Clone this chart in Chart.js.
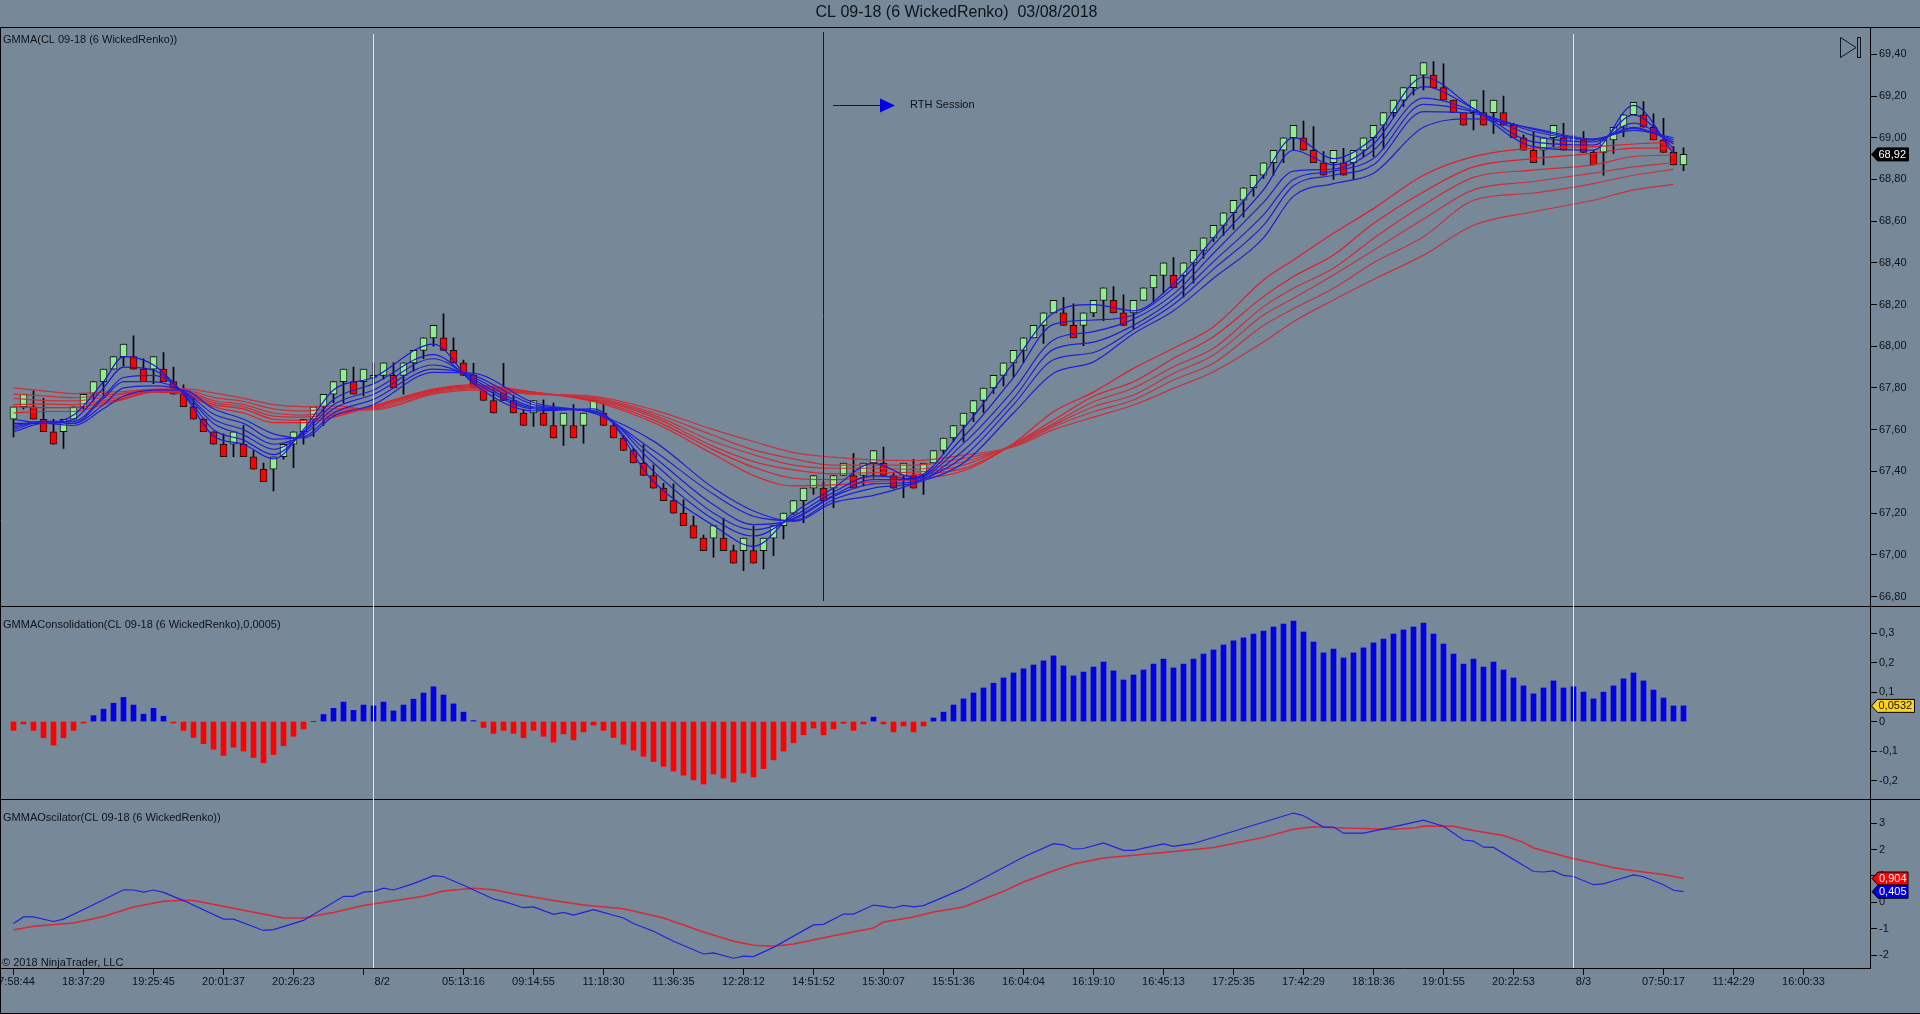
<!DOCTYPE html>
<html>
<head>
<meta charset="utf-8">
<title>CL 09-18 GMMA</title>
<script src="https://cdn.jsdelivr.net/npm/chart.js@4/dist/chart.umd.min.js"></script>
<style>
html,body{margin:0;padding:0;background:#778899;overflow:hidden}
canvas{display:block}
</style>
</head>
<body>
<canvas id="chart" width="1920" height="1014"></canvas>
<script>
// renko candles, one entry per brick
const opens=[67.65,67.71,67.71,67.65,67.59,67.59,67.65,67.71,67.77,67.83,67.89,67.95,67.95,67.89,
67.89,67.89,67.83,67.77,67.71,67.65,67.59,67.53,67.53,67.53,67.47,67.41,67.41,67.47,
67.53,67.59,67.65,67.71,67.77,67.83,67.83,67.83,67.85,67.86,67.86,67.86,67.92,67.98,
68.04,68.04,67.98,67.92,67.86,67.80,67.74,67.80,67.74,67.68,67.68,67.68,67.62,67.62,
67.62,67.62,67.68,67.68,67.62,67.56,67.50,67.44,67.38,67.32,67.26,67.20,67.14,67.08,
67.08,67.08,67.02,67.02,67.02,67.02,67.08,67.14,67.20,67.26,67.32,67.32,67.32,67.38,
67.38,67.38,67.44,67.44,67.38,67.38,67.38,67.38,67.44,67.50,67.56,67.62,67.68,67.74,
67.80,67.86,67.92,67.98,68.04,68.10,68.16,68.16,68.10,68.10,68.16,68.22,68.22,68.16,
68.16,68.22,68.28,68.34,68.34,68.34,68.40,68.46,68.52,68.58,68.64,68.70,68.76,68.82,
68.88,68.94,69.00,69.00,68.94,68.88,68.88,68.88,68.88,68.94,69.00,69.06,69.12,69.18,
69.24,69.30,69.30,69.24,69.18,69.12,69.12,69.12,69.12,69.12,69.06,69.00,68.94,68.94,
69.00,69.00,68.99,68.99,68.93,68.93,68.99,69.05,69.11,69.11,69.05,68.99,68.93,68.87];
const closes=[67.71,67.77,67.65,67.59,67.53,67.65,67.71,67.77,67.83,67.89,67.95,68.01,67.89,67.83,
67.95,67.83,67.77,67.71,67.65,67.59,67.53,67.47,67.59,67.47,67.41,67.35,67.47,67.53,
67.59,67.65,67.71,67.77,67.83,67.89,67.77,67.89,67.86,67.92,67.80,67.92,67.98,68.04,
68.10,67.98,67.92,67.86,67.80,67.74,67.68,67.74,67.68,67.62,67.74,67.62,67.56,67.68,
67.56,67.68,67.74,67.62,67.56,67.50,67.44,67.38,67.32,67.26,67.20,67.14,67.08,67.02,
67.14,67.02,66.96,67.08,66.96,67.08,67.14,67.20,67.26,67.32,67.38,67.26,67.38,67.44,
67.32,67.44,67.50,67.38,67.32,67.44,67.32,67.44,67.50,67.56,67.62,67.68,67.74,67.80,
67.86,67.92,67.98,68.04,68.10,68.16,68.22,68.10,68.04,68.16,68.22,68.28,68.16,68.10,
68.22,68.28,68.34,68.40,68.28,68.40,68.46,68.52,68.58,68.64,68.70,68.76,68.82,68.88,
68.94,69.00,69.06,68.94,68.88,68.82,68.94,68.82,68.94,69.00,69.06,69.12,69.18,69.24,
69.30,69.36,69.24,69.18,69.12,69.06,69.18,69.06,69.18,69.06,69.00,68.94,68.88,69.00,
69.06,68.94,68.995,68.93,68.87,68.99,69.05,69.11,69.17,69.05,68.99,68.93,68.87,68.92];
const highs=[67.71,67.77,67.786,67.75,67.65,67.65,67.71,67.77,67.83,67.89,67.95,68.01,68.05,67.94,
67.95,67.97,67.90,67.815,67.76,67.655,67.59,67.58,67.59,67.62,67.50,67.44,67.47,67.53,
67.59,67.65,67.71,67.77,67.83,67.89,67.90,67.89,67.92,67.92,67.92,67.92,67.98,68.04,
68.10,68.155,68.04,67.934,67.918,67.81,67.806,67.918,67.766,67.695,67.74,67.743,67.727,67.68,
67.72,67.68,67.74,67.727,67.634,67.572,67.51,67.527,67.43,67.343,67.34,67.263,67.186,67.095,
67.14,67.175,67.047,67.08,67.138,67.08,67.14,67.20,67.26,67.32,67.38,67.35,67.38,67.44,
67.487,67.44,67.50,67.516,67.39,67.44,67.458,67.44,67.50,67.56,67.62,67.68,67.74,67.80,
67.86,67.92,67.98,68.04,68.10,68.16,68.22,68.235,68.203,68.16,68.22,68.28,68.286,68.246,
68.22,68.28,68.34,68.40,68.425,68.40,68.46,68.52,68.58,68.64,68.70,68.76,68.82,68.88,
68.94,69.00,69.06,69.08,69.053,68.933,68.94,68.949,68.94,69.00,69.06,69.12,69.18,69.24,
69.30,69.36,69.365,69.354,69.18,69.12,69.18,69.226,69.18,69.20,69.069,69.013,69.029,69.00,
69.06,69.069,69.013,69.029,68.941,68.99,69.05,69.11,69.17,69.173,69.114,69.093,68.957,68.952];
const lows=[67.565,67.70,67.65,67.59,67.53,67.51,67.65,67.70,67.74,67.75,67.89,67.906,67.89,67.83,
67.82,67.83,67.77,67.71,67.65,67.59,67.53,67.47,67.47,67.47,67.41,67.35,67.306,67.458,
67.418,67.53,67.567,67.62,67.73,67.73,67.77,67.762,67.825,67.842,67.80,67.77,67.88,67.94,
68.00,67.98,67.92,67.86,67.80,67.74,67.68,67.74,67.68,67.62,67.615,67.62,67.56,67.524,
67.56,67.535,67.68,67.62,67.56,67.50,67.44,67.38,67.32,67.26,67.20,67.14,67.08,67.02,
66.988,67.02,66.96,66.924,66.96,66.932,66.996,67.076,67.194,67.154,67.29,67.26,67.226,67.38,
67.32,67.33,67.367,67.38,67.32,67.274,67.32,67.29,67.44,67.484,67.543,67.542,67.638,67.683,
67.774,67.81,67.854,67.923,68.04,68.014,68.16,68.10,68.04,68.003,68.142,68.123,68.16,68.10,
68.083,68.222,68.214,68.254,68.28,68.235,68.302,68.422,68.502,68.531,68.56,68.62,68.72,68.805,
68.82,68.88,68.94,68.94,68.88,68.82,68.80,68.82,68.80,68.909,68.909,68.946,69.098,69.149,
69.205,69.229,69.24,69.18,69.12,69.06,69.037,69.06,69.021,69.06,69.00,68.94,68.88,68.869,
68.957,68.94,68.94,68.93,68.87,68.821,68.925,69.005,69.109,69.05,68.99,68.93,68.87,68.842];

// moving average ribbons, read at these brick positions
const gmmaKnots=[0,3,6,9,11,14,17,20,23,26,29,32,36,42,46,52,58,64,70,74,78,82,86,90,95,100,104,108,112,116,120,125,128,132,136,141,146,152,158,162,166];
const blue1=[67.65,67.63,67.67,67.83,67.95,67.91,67.77,67.57,67.53,67.46,67.60,67.79,67.85,68.01,67.82,67.69,67.70,67.35,67.14,67.04,67.20,67.32,67.44,67.37,67.606,67.92,68.16,68.20,68.17,68.30,68.52,68.82,69.00,68.90,69.00,69.29,69.14,68.957,68.94,69.155,68.925];
const blue2=[67.63,67.63,67.65,67.80,67.90,67.885,67.775,67.60,67.55,67.48,67.59,67.745,67.82,67.96,67.83,67.70,67.69,67.40,67.17,67.09,67.185,67.30,67.38,67.365,67.566,67.85,68.105,68.126,68.15,68.28,68.486,68.75,68.94,68.87,68.97,69.245,69.14,68.98,68.965,69.11,68.95];
const blue3=[67.62,67.64,67.64,67.76,67.85,67.86,67.78,67.63,67.575,67.506,67.585,67.72,67.79,67.94,67.84,67.705,67.69,67.44,67.20,67.12,67.175,67.285,67.36,67.36,67.534,67.79,68.03,68.07,68.13,68.25,68.446,68.69,68.84,68.85,68.94,69.19,69.13,69.01,68.98,69.07,68.97];
const blue4=[67.61,67.64,67.63,67.75,67.83,67.83,67.78,67.65,67.60,67.53,67.575,67.70,67.77,67.91,67.85,67.71,67.685,67.47,67.24,67.145,67.17,67.28,67.34,67.35,67.50,67.75,67.985,68.02,68.10,68.225,68.406,68.63,68.80,68.84,68.90,69.16,69.125,69.03,68.99,69.05,68.98];
const blue5=[67.60,67.64,67.63,67.72,67.80,67.81,67.785,67.675,67.63,67.555,67.565,67.68,67.745,67.89,67.86,67.72,67.68,67.50,67.29,67.185,67.165,67.265,67.32,67.345,67.47,67.72,67.935,67.97,68.08,68.20,68.37,68.58,68.77,68.82,68.87,69.125,69.115,69.04,68.99,69.045,68.99];
const blue6=[67.59,67.63,67.62,67.70,67.76,67.79,67.79,67.70,67.65,67.58,67.56,67.665,67.72,67.875,67.87,67.73,67.68,67.545,67.32,67.21,67.16,67.25,67.285,67.34,67.44,67.68,67.87,67.925,68.06,68.17,68.326,68.52,68.72,68.78,68.83,69.05,69.09,69.045,68.995,69.035,69.00];
const red1=[67.68,67.687,67.687,67.72,67.745,67.78,67.77,67.71,67.68,67.634,67.634,67.66,67.714,67.794,67.815,67.78,67.735,67.634,67.482,67.38,67.33,67.335,67.35,67.362,67.403,67.534,67.686,67.78,67.894,67.99,68.094,68.318,68.414,68.542,68.66,68.82,68.909,68.95,68.957,68.97,68.98];
const red2=[67.71,67.706,67.706,67.73,67.75,67.782,67.775,67.72,67.70,67.65,67.645,67.67,67.71,67.79,67.81,67.78,67.74,67.647,67.503,67.42,67.367,67.36,67.372,67.383,67.414,67.53,67.646,67.76,67.83,67.942,68.046,68.238,68.334,68.438,68.589,68.74,68.86,68.90,68.925,68.95,68.95];
const red3=[67.72,67.722,67.72,67.74,67.76,67.785,67.78,67.73,67.71,67.665,67.66,67.677,67.705,67.785,67.805,67.775,67.745,67.66,67.52,67.447,67.407,67.388,67.394,67.396,67.43,67.53,67.63,67.734,67.80,67.902,67.99,68.19,68.278,68.374,68.517,68.677,68.81,68.845,68.87,68.91,68.917];
const red4=[67.75,67.74,67.738,67.754,67.77,67.79,67.785,67.74,67.72,67.68,67.67,67.687,67.70,67.78,67.80,67.775,67.75,67.67,67.543,67.48,67.43,67.415,67.415,67.41,67.446,67.525,67.622,67.71,67.766,67.87,67.958,68.15,68.23,68.342,68.46,68.61,68.75,68.79,68.83,68.86,68.88];
const red5=[67.77,67.762,67.754,67.765,67.775,67.792,67.79,67.755,67.735,67.70,67.69,67.70,67.70,67.775,67.795,67.77,67.755,67.68,67.572,67.503,67.46,67.43,67.43,67.43,67.462,67.52,67.614,67.686,67.742,67.838,67.918,68.10,68.18,68.278,68.40,68.525,68.70,68.735,68.78,68.82,68.848];
const red6=[67.80,67.786,67.773,67.78,67.783,67.795,67.797,67.776,67.75,67.72,67.71,67.714,67.695,67.77,67.79,67.77,67.76,67.695,67.60,67.543,67.49,67.468,67.455,67.452,67.478,67.518,67.60,67.66,67.718,67.798,67.878,68.02,68.118,68.222,68.32,68.437,68.58,68.645,68.70,68.75,68.776];

// GMMAConsolidation histogram
const consolidation=[-0.03,-0.008,-0.03,-0.055,-0.08,-0.055,-0.03,-0.005,0.02,0.042,0.062,0.082,0.056,0.025,
0.045,0.018,-0.005,-0.03,-0.054,-0.075,-0.094,-0.115,-0.087,-0.10,-0.122,-0.14,-0.112,-0.082,
-0.05,-0.025,0,0.024,0.045,0.066,0.038,0.056,0.053,0.066,0.036,0.056,0.076,0.097,
0.118,0.09,0.06,0.032,0.003,-0.02,-0.04,-0.03,-0.04,-0.055,-0.03,-0.05,-0.07,-0.042,
-0.062,-0.035,-0.012,-0.03,-0.054,-0.077,-0.097,-0.118,-0.136,-0.152,-0.168,-0.182,-0.198,-0.212,
-0.178,-0.192,-0.205,-0.175,-0.188,-0.16,-0.13,-0.10,-0.072,-0.045,-0.022,-0.045,-0.025,-0.006,
-0.03,-0.008,0.015,-0.008,-0.035,-0.015,-0.035,-0.015,0.012,0.032,0.056,0.077,0.097,0.114,
0.13,0.148,0.165,0.179,0.192,0.206,0.223,0.189,0.155,0.168,0.185,0.202,0.172,0.141,
0.158,0.175,0.195,0.212,0.182,0.195,0.212,0.229,0.243,0.26,0.274,0.284,0.297,0.307,
0.321,0.331,0.341,0.304,0.27,0.233,0.246,0.216,0.233,0.25,0.267,0.28,0.297,0.311,
0.321,0.334,0.297,0.263,0.229,0.195,0.212,0.185,0.202,0.175,0.148,0.121,0.094,0.114,
0.138,0.114,0.118,0.10,0.077,0.10,0.121,0.145,0.165,0.138,0.107,0.08,0.053,0.0532];

// GMMAOscilator lines, read where the line bends
const oscBlueIdx=[0,1,2,4,5,7,9,11,12,13,14,15,17,21,22,25,26,29,33,34,35,36,37,38,40,42,43,45,48,49,51,52,54,55,56,58,61,62,64,66,69,70,72,73,74,76,80,81,83,84,86,87,88,89,90,91,95,101,104,105,106,107,109,111,112,115,116,118,128,129,131,132,133,135,139,141,143,145,146,147,148,152,153,154,155,156,158,159,160,162,163,165,166,167];
const oscBlue=[-0.80,-0.55,-0.55,-0.72,-0.63,-0.27,0.10,0.48,0.47,0.39,0.47,0.38,0.07,-0.63,-0.63,-1.06,-1.03,-0.68,0.23,0.23,0.39,0.42,0.54,0.47,0.71,1.01,0.97,0.65,0.13,0.04,-0.20,-0.17,-0.45,-0.38,-0.48,-0.27,-0.59,-0.80,-1.09,-1.47,-1.95,-1.91,-2.11,-2.03,-2.05,-1.70,-0.85,-0.83,-0.44,-0.44,-0.10,-0.15,-0.21,-0.11,-0.17,-0.12,0.52,1.72,2.22,2.18,2.02,2.04,2.25,1.97,1.97,2.21,2.12,2.23,3.38,3.28,2.85,2.85,2.62,2.62,2.94,3.11,2.88,2.36,2.32,2.09,2.08,1.17,1.15,1.19,1.02,0.98,0.67,0.70,0.82,1.04,0.97,0.67,0.46,0.405];
const oscRedIdx=[0,2,6,9,12,15,17,18,23,27,29,32,35,41,43,46,48,50,54,57,61,65,69,72,74,76,78,82,86,87,90,92,95,99,101,104,106,109,115,120,125,128,130,133,138,140,141,144,146,149,151,152,156,157,160,162,165,167];
const oscRed=[-1.04,-0.90,-0.78,-0.53,-0.17,0.04,0.08,0.07,-0.30,-0.59,-0.59,-0.38,-0.12,0.23,0.43,0.54,0.48,0.33,0.07,-0.10,-0.24,-0.59,-1.12,-1.47,-1.62,-1.66,-1.57,-1.26,-0.97,-0.74,-0.55,-0.36,-0.17,0.42,0.77,1.20,1.45,1.68,1.89,2.08,2.46,2.77,2.86,2.81,2.77,2.81,2.89,2.88,2.72,2.53,2.27,2.06,1.65,1.58,1.31,1.20,1.06,0.904];

// axis ticks
const priceTicks=[66.8,67,67.2,67.4,67.6,67.8,68,68.2,68.4,68.6,68.8,69,69.2,69.4];
const consTicks=[-0.2,-0.1,0,0.1,0.2,0.3];
const oscTicks=[-2,-1,0,1,2,3];
const timeTicks=[0,7,14,21,28,35,36.87,45,52,59,66,73,80,87,94,101,108,115,122,129,136,143,150,157,165,172,179];
const timeLabels=['17:58:44','18:37:29','19:25:45','20:01:37','20:26:23','','8/2','05:13:16','09:14:55','11:18:30','11:36:35','12:28:12','14:51:52','15:30:07','15:51:36','16:04:04','16:19:10','16:45:13','17:25:35','17:42:29','18:18:36','19:01:55','20:22:53','8/3','07:50:17','11:42:29','16:00:33'];

// session markers and last value tags
const sessionBreaks=[36,156];
const rthStart=81;
const lastPrice=68.92, lastCons=0.0532, lastOscRed=0.904, lastOscBlue=0.405;

const FONT='"Liberation Sans", Arial, sans-serif';
const INK='#0e141a';
const comma=(v,d)=>v.toFixed(d).replace('.',',');

const fitAxis=(w)=>(s)=>{ s.width=w; s.paddingTop=0; s.paddingBottom=0; };

function ribbon(values,color,order){
  return {type:'line',yAxisID:'price',order,borderColor:color,borderWidth:1.2,pointRadius:0,
    cubicInterpolationMode:'monotone',data:gmmaKnots.map((x,i)=>({x,y:values[i]}))};
}
function oscLine(idx,values,color,width,order){
  return {type:'line',yAxisID:'osc',order,borderColor:color,borderWidth:width,pointRadius:0,tension:0,
    data:idx.map((x,i)=>({x,y:values[i]}))};
}

const datasets=[
  {type:'bar',yAxisID:'price',order:20,grouped:false,barThickness:1,backgroundColor:'#000',
    data:highs.map((h,i)=>({x:i,y:[lows[i],h]}))},
  {type:'bar',yAxisID:'price',order:19,grouped:false,barThickness:7,borderWidth:1,borderColor:'#111',borderSkipped:false,
    backgroundColor:closes.map((c,i)=>c>=opens[i]?'#90ee90':'#ff0000'),
    data:opens.map((o,i)=>({x:i,y:[o,closes[i]]}))},
  {type:'bar',yAxisID:'cons',order:18,grouped:false,barThickness:5,
    backgroundColor:consolidation.map(v=>v>=0?'#0000e6':'#ff0000'),
    data:consolidation.map((v,i)=>({x:i,y:v}))},
  ribbon(red6,'#c8323c',9),ribbon(red5,'#c8323c',9),ribbon(red4,'#c8323c',9),
  ribbon(red3,'#d02c34',9),ribbon(red2,'#e01f28',9),ribbon(red1,'#e01f28',9),
  ribbon(blue6,'#2020d8',8),ribbon(blue5,'#2020d8',8),ribbon(blue4,'#2020d8',8),
  ribbon(blue3,'#2020d8',8),ribbon(blue2,'#1818e0',8),ribbon(blue1,'#1818e0',8),
  oscLine(oscRedIdx,oscRed,'#d62a3a',1.5,7),
  oscLine(oscBlueIdx,oscBlue,'#2222dd',1.2,6)
];

function tag(ctx,x,y,w,h,fill,stroke,textColor,text){
  ctx.beginPath();
  ctx.moveTo(x,y);
  ctx.lineTo(x+6,y-h/2);
  ctx.lineTo(x+w,y-h/2);
  ctx.lineTo(x+w,y+h/2);
  ctx.lineTo(x+6,y+h/2);
  ctx.closePath();
  ctx.fillStyle=fill;ctx.fill();
  ctx.strokeStyle=stroke;ctx.lineWidth=1;ctx.stroke();
  ctx.fillStyle=textColor;
  ctx.font='11px '+FONT;
  ctx.textAlign='left';ctx.textBaseline='middle';
  ctx.fillText(text,x+7,y+0.5);
}

const decor={
  id:'decor',
  afterDraw(chart){
    const {ctx,chartArea:a,scales}=chart;
    const x=scales.x,py=scales.price,cy=scales.cons,oy=scales.osc;
    ctx.save();
    // pane frame
    ctx.strokeStyle='#000';ctx.lineWidth=1;
    ctx.beginPath();
    ctx.moveTo(0,27.5);ctx.lineTo(1920,27.5);
    ctx.moveTo(0,Math.round(cy.top)+0.5);ctx.lineTo(1920,Math.round(cy.top)+0.5);
    ctx.moveTo(0,Math.round(oy.top)+0.5);ctx.lineTo(1920,Math.round(oy.top)+0.5);
    ctx.moveTo(0.5,27);ctx.lineTo(0.5,1014);
    ctx.moveTo(0,1013.5);ctx.lineTo(1920,1013.5);
    ctx.stroke();
    // session lines
    ctx.strokeStyle='#dfe4ea';
    sessionBreaks.forEach(b=>{
      const px=Math.floor(x.getPixelForValue(b))+0.5;
      ctx.beginPath();ctx.moveTo(px,34);ctx.lineTo(px,a.bottom);ctx.stroke();
    });
    // RTH marker
    const rx=Math.floor(x.getPixelForValue(rthStart))+0.5;
    ctx.strokeStyle='#0000e6';
    ctx.beginPath();ctx.moveTo(rx,32);ctx.lineTo(rx,601);ctx.stroke();
    ctx.beginPath();ctx.moveTo(833,105.5);ctx.lineTo(881,105.5);ctx.stroke();
    ctx.fillStyle='#0000e6';
    ctx.beginPath();ctx.moveTo(880,98.5);ctx.lineTo(895,105.5);ctx.lineTo(880,112.5);ctx.closePath();ctx.fill();
    // pane captions
    ctx.fillStyle=INK;ctx.font='11px '+FONT;ctx.textAlign='left';ctx.textBaseline='middle';
    ctx.fillText('GMMA(CL 09-18 (6 WickedRenko))',3,40);
    ctx.fillText('GMMAConsolidation(CL 09-18 (6 WickedRenko),0,0005)',3,625);
    ctx.fillText('GMMAOscilator(CL 09-18 (6 WickedRenko))',3,818);
    ctx.fillText('\u00a9 2018 NinjaTrader, LLC',2,963);
    ctx.fillText('RTH Session',910,105);
    // scroll-to-end button
    ctx.strokeStyle='#10161c';
    ctx.beginPath();ctx.moveTo(1840.5,37.5);ctx.lineTo(1856,47.5);ctx.lineTo(1840.5,57.5);ctx.closePath();ctx.stroke();
    ctx.strokeRect(1857.5,37.5,3,20);
    // last value tags
    tag(ctx,1871.5,py.getPixelForValue(lastPrice),37,13,'#000','#000','#fff',comma(lastPrice,2));
    tag(ctx,1871.5,cy.getPixelForValue(lastCons),43,13,'#ffd21e','#000',INK,comma(lastCons,4));
    tag(ctx,1872,oy.getPixelForValue(lastOscRed),36,13,'#ff0000','#000','#fff',comma(lastOscRed,3));
    tag(ctx,1872,oy.getPixelForValue(lastOscBlue),36,13,'#0000e6','#000','#fff',comma(lastOscBlue,3));
    ctx.restore();
  }
};

function yScale(stackWeight,weight,min,max,ticks,fmt){
  return {
    type:'linear',position:'right',stack:'panes',stackWeight,weight,min,max,
    afterBuildTicks(s){ s.ticks=ticks.map(value=>({value})); },
    afterFit:fitAxis(42),
    border:{color:'#000',display:true},
    grid:{drawOnChartArea:false,drawTicks:true,tickLength:7,tickColor:'#000',tickWidth:1},
    ticks:{color:INK,font:{family:FONT,size:11},padding:2,autoSkip:false,callback:fmt}
  };
}

new Chart(document.getElementById('chart'),{
  data:{datasets},
  plugins:[decor],
  options:{
    responsive:false,animation:false,devicePixelRatio:1,
    layout:{padding:{left:1,right:8,top:0,bottom:0}},
    plugins:{
      legend:{display:false},
      tooltip:{enabled:false},
      title:{display:true,text:'CL 09-18 (6 WickedRenko)  03/08/2018',color:INK,
        font:{family:FONT,size:16,weight:'normal'},padding:{top:3,bottom:5}}
    },
    scales:{
      x:{
        type:'linear',position:'bottom',offset:false,min:-1.25,max:185.65,
        afterBuildTicks(s){ s.ticks=timeTicks.map(value=>({value})); },
        afterFit(s){ s.height=46; s.paddingLeft=0; s.paddingRight=0; },
        border:{color:'#000'},
        grid:{offset:false,drawOnChartArea:false,drawTicks:true,tickLength:7,
          tickColor:c=>c.tick&&c.tick.value===36.87?'rgba(0,0,0,0)':'#000'},
        ticks:{color:INK,font:{family:FONT,size:11},padding:0,autoSkip:false,maxRotation:0,minRotation:0,
          callback:(v,i)=>timeLabels[i]}
      },
      price:yScale(579,0,66.754,69.53,priceTicks,v=>comma(v,2)),
      cons:yScale(193,1,-0.263,0.392,consTicks,v=>v===0?'0':comma(v,1)),
      osc:yScale(169,2,-2.48,3.91,oscTicks,v=>String(v))
    }
  }
});
</script>
</body>
</html>
